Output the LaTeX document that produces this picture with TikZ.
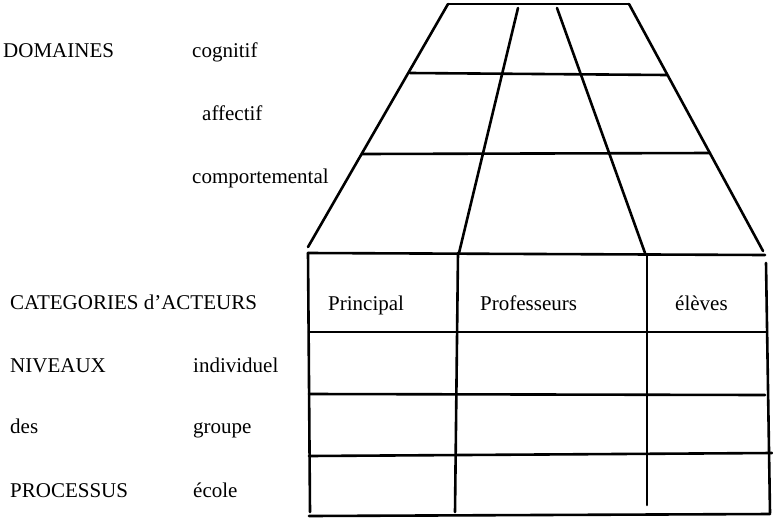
\documentclass[tikz,border=0pt]{standalone}
\usepackage{fontspec}
\setmainfont{Liberation Serif}
\begin{document}
\begin{tikzpicture}[x=1pt,y=-1pt,
  ln/.style={line width=2.6pt,line cap=round},
  lbl/.style={anchor=base west,inner sep=0pt,font=\fontsize{21}{25}\selectfont}]
\useasboundingbox (0,0) rectangle (773,517);
% trapezoid corners
\coordinate (tl) at (448,4);
\coordinate (tr) at (629,4);
\coordinate (bl) at (308,247);
\coordinate (br) at (763,251);
\coordinate (m1t) at (518,8);
\coordinate (m1b) at (459,253);
\coordinate (m2t) at (557,8);
\coordinate (m2b) at (645,253);
\coordinate (h1l) at (410,73);
\coordinate (h1r) at (667,75);
\coordinate (h2l) at (362,154);
\coordinate (h2r) at (710,153);
\draw[ln] (tl) -- (tr);
\draw[ln] (tl) -- (bl);
\draw[ln] (tr) -- (br);
\draw[ln] (m1t) -- (m1b);
\draw[ln] (m2t) -- (m2b);
\draw[ln] (h1l) -- (h1r);
\draw[ln] (h2l) -- (h2r);
% table
\coordinate (t0l) at (308,253);
\coordinate (t0r) at (765,255);
\coordinate (v0b) at (310,512);
\coordinate (v1t) at (458,253);
\coordinate (v1b) at (455,512);
\coordinate (v2t) at (647,254);
\coordinate (v2b) at (647,505);
\coordinate (v3t) at (766,263);
\coordinate (v3b) at (770,513);
\coordinate (r1l) at (309,332);
\coordinate (r1r) at (767,332);
\coordinate (r2l) at (309,394);
\coordinate (r2r) at (765,395);
\coordinate (r3l) at (309,456);
\coordinate (r3r) at (772,453);
\coordinate (bbl) at (309,516);
\coordinate (bbr) at (770,514);
\draw[ln] (t0l) -- (t0r);
\draw[ln] (t0l) -- (v0b);
\draw[ln] (v1t) -- (v1b);
\draw[ln] (v2t) -- (v2b);
\draw[ln] (v3t) -- (v3b);
\draw[ln] (r1l) -- (r1r);
\draw[ln] (r2l) -- (r2r);
\draw[ln] (r3l) -- (r3r);
\draw[ln] (bbl) -- (bbr);
% labels
\node[lbl] (dom) at (3,57) {DOMAINES};
\node[lbl] (cog) at (192,57) {cognitif};
\node[lbl] (aff) at (202,120) {affectif};
\node[lbl] (comp) at (192,183) {comportemental};
\node[lbl] (cat) at (10,309) {CATEGORIES d’ACTEURS};
\node[lbl] (niv) at (10,372) {NIVEAUX};
\node[lbl] (ind) at (193,372) {individuel};
\node[lbl] (des) at (10,433) {des};
\node[lbl] (grp) at (193,433) {groupe};
\node[lbl] (proc) at (10,497) {PROCESSUS};
\node[lbl] (eco) at (193,497) {école};
\node[lbl] (pri) at (328,310) {Principal};
\node[lbl] (prof) at (480,310) {Professeurs};
\node[lbl] (elv) at (675,310) {élèves};
\end{tikzpicture}
\end{document}
